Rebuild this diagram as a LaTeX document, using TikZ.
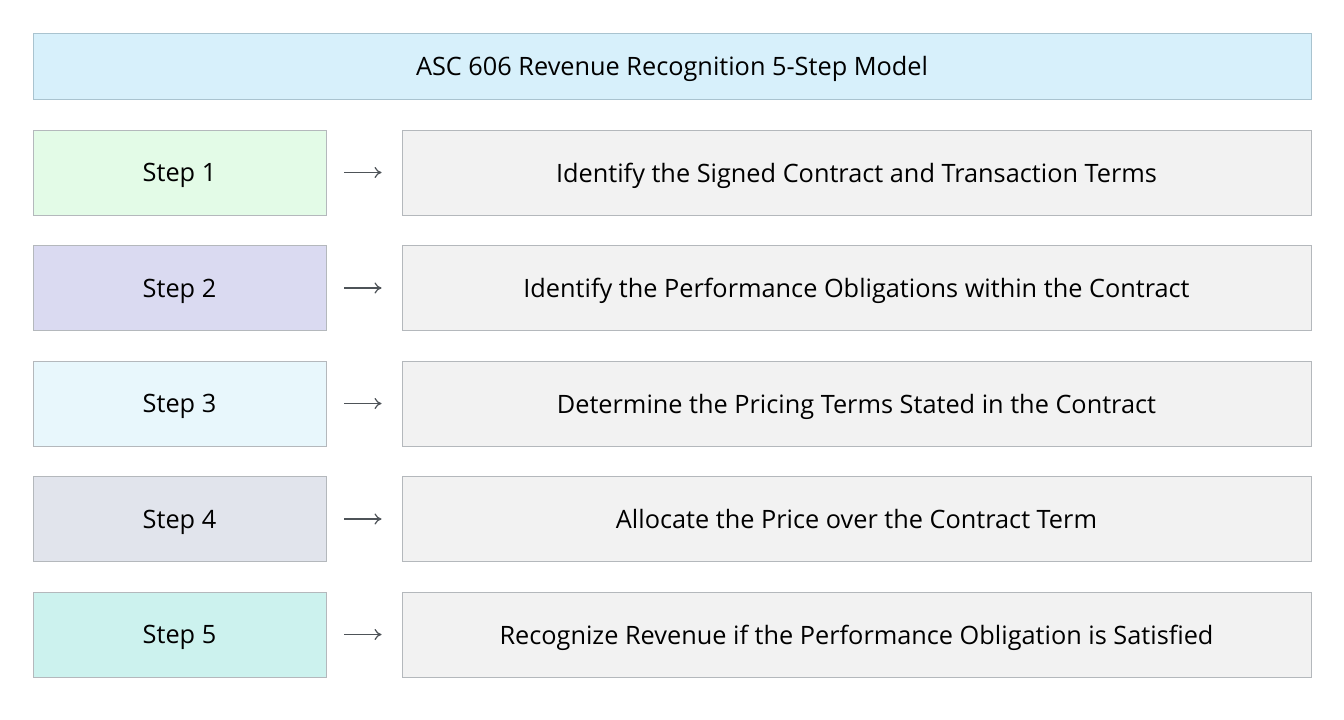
\documentclass[tikz,border=0pt]{standalone}
\usepackage{fontspec}
\setmainfont{Open Sans}
\usepackage{tikz}
\usetikzlibrary{positioning, arrows.meta}

\definecolor{titlefill}{HTML}{D7F0FB}
\definecolor{titleline}{HTML}{A9C3CF}
\definecolor{boxline}{HTML}{B4B8BC}
\definecolor{descfill}{HTML}{F2F2F2}
\definecolor{stepA}{HTML}{E3FBE7}
\definecolor{stepB}{HTML}{DADAF1}
\definecolor{stepC}{HTML}{E8F7FC}
\definecolor{stepD}{HTML}{E1E4EC}
\definecolor{stepE}{HTML}{CCF2EE}
\definecolor{arrowgray}{HTML}{4E5358}

\tikzset{
  stepbox/.style={draw=boxline, line width=0.9pt, minimum width=293pt, minimum height=85pt, inner sep=0pt, text depth=0pt},
  descbox/.style={draw=boxline, line width=0.9pt, fill=descfill, minimum width=909pt, minimum height=85pt, inner sep=0pt, text depth=0pt},
  flow/.style={-{To[length=7pt, width=11pt]}, arrowgray, line width=1.2pt, shorten <=18pt, shorten >=20pt}
}

\begin{document}
\begin{tikzpicture}[x=1pt, y=-1pt, every node/.style={font=\fontsize{25.3}{30}\selectfont}]
\useasboundingbox (0,0) rectangle (1344,720);
\fill[white] (0,0) rectangle (1344,720);

\node[draw=titleline, line width=0.9pt, fill=titlefill, minimum width=1278pt, minimum height=66pt, text depth=0pt] (title) at (672,66) {ASC 606 Revenue Recognition 5-Step Model};

\node[stepbox, fill=stepA] (s1) at (179.5,172.5) {Step 1};
\node[stepbox, fill=stepB] (s2) at (179.5,288) {Step 2};
\node[stepbox, fill=stepC] (s3) at (179.5,403.5) {Step 3};
\node[stepbox, fill=stepD] (s4) at (179.5,519) {Step 4};
\node[stepbox, fill=stepE] (s5) at (179.5,634.5) {Step 5};

\node[descbox] (d1) at (856.5,172.5) {Identify the Signed Contract and Transaction Terms};
\node[descbox] (d2) at (856.5,288) {Identify the Performance Obligations within the Contract};
\node[descbox] (d3) at (856.5,403.5) {Determine the Pricing Terms Stated in the Contract};
\node[descbox] (d4) at (856.5,519) {Allocate the Price over the Contract Term};
\node[descbox] (d5) at (856.5,634.5) {Recognize Revenue if the Performance Obligation is Satisfied};

\draw[flow] (s1) -- (d1);
\draw[flow] (s2) -- (d2);
\draw[flow] (s3) -- (d3);
\draw[flow] (s4) -- (d4);
\draw[flow] (s5) -- (d5);
\end{tikzpicture}
\end{document}
